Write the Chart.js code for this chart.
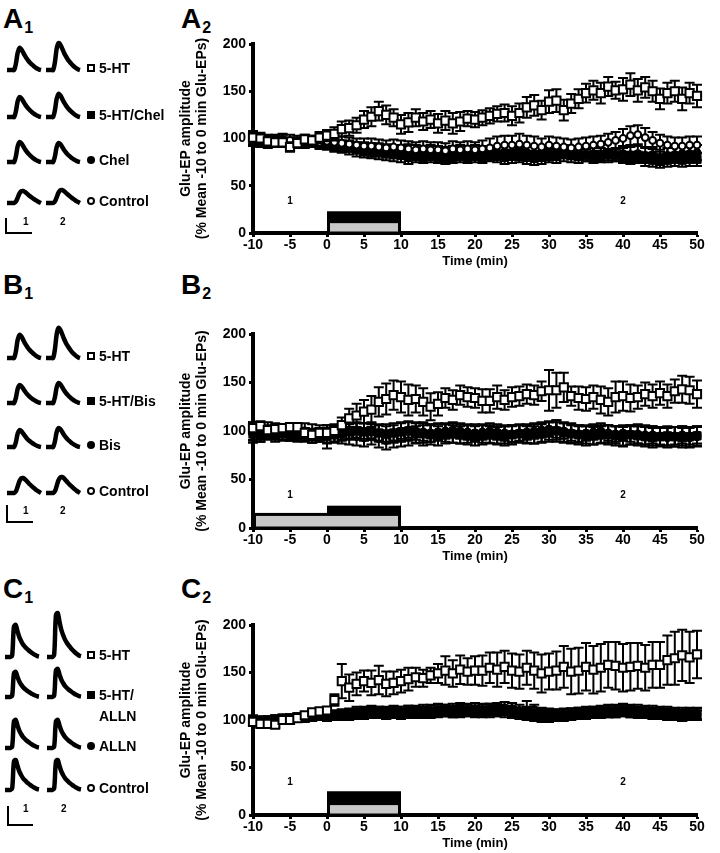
<!DOCTYPE html>
<html>
<head>
<meta charset="utf-8">
<script src="https://cdn.jsdelivr.net/npm/chart.js@4.4.0/dist/chart.umd.min.js"></script>
<style>
  body { margin: 0; background: #fff; font-family: 'Liberation Sans', Arial, sans-serif; color: #000; }
  #page { position: relative; width: 720px; height: 853px; overflow: hidden; background: #fff; }
  .plab { position: absolute; font-size: 28px; font-weight: bold; line-height: 1; }
  .plab sub { font-size: 16px; vertical-align: -5px; margin-left: 1px; }
  .lbl { position: absolute; font-size: 14px; font-weight: bold; line-height: 14px; white-space: nowrap; }
  .num { position: absolute; font-size: 10px; font-weight: bold; line-height: 10px; }
  .sym { position: absolute; box-sizing: border-box; }
  .bar { position: absolute; background: #000; }
  canvas { position: absolute; }
</style>
</head>
<body>
<div id="page"></div>
<script>
// tiempo (min)
const times = [-10,-9,-8,-7,-6,-5,-4,-3,-2,-1,0,1,2,3,4,5,6,7,8,9,10,11,12,13,14,15,16,17,18,19,20,
  21,22,23,24,25,26,27,28,29,30,31,32,33,34,35,36,37,38,39,40,41,42,43,44,45,46,47,48,49,50];
const xTicks = [-10, 50, 5];   // min, max, paso
const yTicks = [0, 200, 50];

// Panel A (Chel)
const aHT = [101,100,97,96,96,91,95,99,98,101, 103,105,110,111,114,120,123,129,125,122,
  115,117,122,118,120,116,119,116,118,121, 120,122,124,126,127,124,127,133,135,130,
  139,140,130,137,142,148,151,148,155,151, 152,157,151,154,150,142,148,150,142,148, 145];
const aHTErr = [7,6,6,5,5,5,5,5,5,6, 6,7,8,8,8,9,10,10,10,9, 10,10,9,9,9,10,10,11,10,8,
  8,8,8,8,9,10,10,11,11,10, 12,12,11,10,10,10,10,11,10,9, 12,12,12,11,11,11,11,11,12,11, 12];
const aHTChel = [100,98,99,97,96,95,96,97,96,95, 94,92,91,90,88,87,86,85,84,83,
  82,80,81,80,81,80,79,80,81,80, 81,80,82,81,80,81,82,80,79,80,
  82,81,83,82,81,82,80,81,83,82, 80,79,80,78,77,76,77,78,77,78, 78];
const aHTChelErr = [6,6,5,5,5,5,5,5,5,5, 6,6,6,7,7,7,7,7,7,7, 7,7,6,6,6,6,6,6,6,6,
  6,6,6,6,7,7,7,7,7,7, 7,7,7,7,7,6,6,6,6,6, 6,6,6,7,7,7,7,7,7,7, 7];
const aChel = [98,97,96,97,98,96,95,95,96,94, 95,93,92,92,90,89,88,88,87,86,
  86,87,86,85,86,85,84,85,86,85, 86,85,84,85,86,85,84,85,84,85,
  84,85,86,85,84,83,84,83,82,83, 84,83,84,82,83,80,82,83,84,84, 85];
const aChelErr = [6,6,6,6,6,5,5,5,5,5, 6,6,6,6,6,7,7,7,7,7, 7,7,7,7,7,7,7,7,7,7,
  7,7,7,7,7,7,7,7,7,7, 7,7,7,7,7,7,7,7,7,7, 8,8,8,8,8,8,8,8,8,8, 8];
const aCtrl = [100,98,97,98,99,98,97,98,97,96, 97,96,95,94,93,92,92,91,90,91,
  90,89,88,89,88,88,87,89,88,89, 88,89,90,92,93,93,94,93,92,91,
  93,92,91,90,91,92,93,94,96,98, 100,103,104,101,98,95,93,92,92,93, 93];
const aCtrlErr = [7,7,6,6,6,6,6,6,6,6, 7,7,7,7,7,8,8,8,8,8, 8,8,8,8,8,8,8,8,8,8,
  8,9,10,10,10,10,11,10,10,9, 9,9,9,9,9,9,9,9,9,9, 10,10,10,10,9,9,9,9,9,9, 9];

// Panel B (Bis)
const bHT = [103,105,101,102,103,104,104,98,96,98, 98,100,106,113,116,120,122,130,133,137,
  135,132,133,130,125,128,134,132,137,135, 134,131,131,135,132,135,136,138,137,141,
  142,142,145,136,134,133,135,132,130,135, 136,134,135,138,136,139,136,141,143,142, 138];
const bHTErr = [6,5,5,4,4,4,4,5,5,5, 5,6,8,10,12,12,14,15,16,15, 16,16,14,14,14,12,10,10,10,10,
  10,12,12,12,10,10,10,10,10,10, 21,18,15,10,12,12,12,14,14,16, 15,14,12,12,12,12,12,12,14,14, 14];
const bHTBis = [97,96,98,97,97,96,95,96,94,95, 94,96,98,99,100,99,100,98,97,98,
  99,100,98,97,96,95,97,98,97,96, 95,96,97,96,95,96,97,96,97,98,
  99,100,98,97,96,95,96,97,96,95, 94,96,95,94,93,94,95,94,93,94, 95];
const bHTBisErr = [7,7,6,6,6,6,6,6,6,6, 12,8,8,8,8,9,9,9,10,10, 10,10,10,12,10,10,10,10,10,10,
  10,10,9,9,10,10,9,9,10,10, 10,11,10,10,10,10,10,9,10,10, 10,10,10,10,10,9,10,10,10,10, 10];
const bBis = [96,97,98,96,97,98,97,96,95,96, 95,97,99,100,101,100,99,98,97,98,
  100,101,100,99,98,99,100,101,100,99, 98,99,100,99,98,97,98,99,100,101,
  102,101,100,98,97,98,99,100,98,97, 98,97,96,95,96,95,94,95,96,95, 96];
const bBisErr = [8,8,7,7,7,7,7,7,7,7, 8,8,8,8,8,8,8,8,8,8, 8,8,9,9,9,8,8,8,8,8,
  8,8,8,8,8,8,8,8,8,8, 8,8,8,8,8,8,8,8,8,8, 8,8,9,9,9,9,9,9,9,9, 9];
const bCtrl = [100,99,101,100,99,98,99,100,99,98, 97,98,96,95,94,93,95,92,90,92,
  93,94,96,97,98,99,98,97,96,97, 98,97,96,95,96,97,98,97,96,98,
  100,101,99,98,97,96,95,96,97,96, 95,96,97,96,95,94,93,94,95,93, 94];
const bCtrlErr = [9,8,8,8,8,8,8,8,8,8, 9,9,9,9,9,9,9,9,9,9, 9,9,9,9,9,9,9,9,9,9,
  9,9,9,9,9,9,9,9,9,9, 9,10,10,10,9,9,9,9,9,9, 10,10,10,10,10,10,10,10,10,10, 10];

// Panel C (ALLN)
const cHT = [98,96,96,95,100,100,102,105,108,109, 110,121,141,134,138,141,139,142,138,139,
  141,143,145,144,147,149,152,149,153,151, 152,152,155,153,156,152,151,155,152,149,
  151,152,156,151,152,156,153,155,158,157, 155,156,157,155,158,158,163,165,168,166, 169];
const cHTErr = [3,3,3,3,3,3,3,3,3,3, 3,6,18,14,12,11,13,15,13,12, 12,12,10,9,8,10,15,14,15,14,
  15,16,16,18,17,18,18,18,19,20, 19,20,22,24,24,25,25,25,24,25, 25,25,24,24,24,24,26,28,27,27, 25];
const cHTALLN = [98,97,98,99,100,101,102,103,104,104, 104,105,106,107,108,108,109,108,107,108,
  108,109,108,108,109,110,110,109,110,110, 109,110,111,110,109,108,107,106,105,104,
  104,105,105,106,107,107,108,108,109,109, 110,109,108,108,107,107,106,106,105,106, 106];
const cHTALLNErr = [4,4,4,4,4,4,4,4,4,4, 5,5,5,5,6,6,6,6,6,6, 6,6,6,6,6,6,6,6,6,6,
  6,6,6,6,6,6,6,6,6,6, 6,6,6,6,6,6,6,6,6,6, 6,6,6,6,6,6,6,6,6,6, 6];
const cALLN = [100,99,100,101,101,102,103,103,104,104, 104,105,106,106,107,107,108,108,108,109,
  108,109,109,110,110,111,110,111,112,111, 112,111,111,112,113,112,110,108,107,106,
  105,105,106,106,107,108,108,109,110,110, 111,110,110,109,109,108,108,107,107,107, 107];
const cALLNErr = [4,4,4,4,4,4,4,4,4,4, 5,5,5,5,5,6,6,6,6,6, 6,6,6,6,6,6,6,6,6,6,
  6,6,6,6,6,6,6,6,6,6, 6,6,6,6,6,6,6,6,6,6, 6,6,6,6,6,6,6,6,6,6, 6];
const cCtrl = [101,100,100,101,102,102,103,102,103,104, 103,104,105,105,106,106,107,107,106,107,
  106,107,108,108,107,108,109,108,108,109, 109,108,108,109,110,109,108,110,111,108,
  107,106,106,107,107,108,108,109,108,108, 109,108,108,107,106,106,105,105,104,105, 105];
const cCtrlErr = [4,4,4,4,4,4,4,4,4,4, 4,4,5,5,5,5,5,5,5,5, 5,5,5,5,5,5,5,5,5,5,
  5,5,5,5,5,5,5,10,5,5, 5,5,5,5,5,5,5,5,5,5, 5,5,5,5,5,5,5,5,5,5, 5];

// barras de aplicación de fármaco: [desde, hasta, bajo, alto]
const grayBarA = [0, 10, 0, 12];
const blackBarA = [0, 10, 12, 23];
const grayBarB = [-10, 10, 0, 14];
const blackBarB = [0, 10, 14, 23];
const grayBarC = [0, 10, 0, 12];
const blackBarC = [0, 10, 12, 25];
// etiquetas de periodo "1" y "2": tiempos y altura
const periodTimes = [-5, 40];
const periodLevel = 34;

// trazos representativos (forma normalizada) y amplitudes (1 = trazo "1", 2 = trazo "2")
const waveRound = [0,0,0,0,0,0.3,0.8,1,0.94,0.8,0.65,0.52,0.41,0.32,0.24,0.17,0.11,0.06,0.02,0];
const waveSlow = [0,0,0,0,0,0.12,0.45,0.8,0.98,1,0.92,0.8,0.67,0.55,0.44,0.34,0.24,0.15,0.07,0];
const waveSharp = [0,0,0,0,0.05,0.95,1,0.8,0.62,0.5,0.4,0.33,0.27,0.22,0.17,0.13,0.09,0.06,0.03,0.02];
const ampA1 = [22, 20, 20, 12], ampA2 = [27, 23, 19, 13];
const ampB1 = [23, 18, 17, 15], ampB2 = [30, 20, 19, 16];
const ampC1 = [32, 25, 28, 30], ampC2 = [44, 28, 28, 30];
const namesA = ['5-HT', '5-HT/Chel', 'Chel', 'Control'];
const namesB = ['5-HT', '5-HT/Bis', 'Bis', 'Control'];
const namesC = ['5-HT', '5-HT/\nALLN', 'ALLN', 'Control'];

const FONT = "'Liberation Sans', Arial, sans-serif";
const page = document.getElementById('page');

function pts(vals) { return vals.map((v, i) => ({ x: times[i], y: v })); }

// barras de error dibujadas justo antes de los puntos de cada serie
const errorBars = {
  id: 'errorBars',
  beforeDatasetDraw(chart, args) {
    const ds = chart.data.datasets[args.index];
    if (!ds.errors) return;
    const ys = chart.scales.y, ctx = chart.ctx;
    ctx.save();
    ctx.strokeStyle = '#000';
    ctx.lineWidth = 2;
    args.meta.data.forEach((p, i) => {
      const v = ds.data[i].y, e = ds.errors[i];
      const t = ys.getPixelForValue(v + e), b = ys.getPixelForValue(v - e);
      ctx.beginPath();
      ctx.moveTo(p.x, t); ctx.lineTo(p.x, b);
      ctx.moveTo(p.x - 5, t); ctx.lineTo(p.x + 5, t);
      ctx.moveTo(p.x - 5, b); ctx.lineTo(p.x + 5, b);
      ctx.stroke();
    });
    ctx.restore();
  }
};

// barras de tratamiento y numeros de periodo
const treatment = {
  id: 'treatment',
  beforeDatasetsDraw(chart, args, opts) {
    const xs = chart.scales.x, ys = chart.scales.y, ctx = chart.ctx;
    const rect = (b) => {
      const x0 = xs.getPixelForValue(b[0]), x1 = xs.getPixelForValue(b[1]);
      const y0 = ys.getPixelForValue(b[2]), y1 = ys.getPixelForValue(b[3]);
      return [x0, y1, x1 - x0, y0 - y1];
    };
    ctx.save();
    const k = rect(opts.black);
    ctx.fillStyle = '#000';
    ctx.fillRect(k[0], k[1], k[2], k[3]);
    const g = rect(opts.gray);
    ctx.fillStyle = '#c8c8c8';
    ctx.fillRect(g[0], g[1], g[2], g[3]);
    ctx.strokeStyle = '#000';
    ctx.lineWidth = 3;
    ctx.strokeRect(g[0] + 1.5, g[1], g[2] - 3, g[3]);
    ctx.fillStyle = '#000';
    ctx.font = 'bold 10px ' + FONT;
    ctx.textAlign = 'center';
    ctx.textBaseline = 'middle';
    periodTimes.forEach((t, i) => {
      ctx.fillText(String(i + 1), xs.getPixelForValue(t), ys.getPixelForValue(periodLevel));
    });
    ctx.restore();
  }
};

const STYLE = {
  openSquare: { pointStyle: 'rect', pointRadius: 5.8, backgroundColor: '#fff', borderColor: '#000', pointBorderWidth: 2 },
  openCircle: { pointStyle: 'circle', pointRadius: 3.4, backgroundColor: '#fff', borderColor: '#000', pointBorderWidth: 2 },
  fillCircle: { pointStyle: 'circle', pointRadius: 4, backgroundColor: '#000', borderColor: '#000', pointBorderWidth: 1 },
  fillSquare: { pointStyle: 'rect', pointRadius: 5.8, backgroundColor: '#000', borderColor: '#000', pointBorderWidth: 1 }
};

// series: [valores, errores, estilo]; la primera se dibuja encima
function mainChart(top, plotH, series, gray, black) {
  const cv = document.createElement('canvas');
  const W = 536, H = 16 + plotH + 36;
  cv.width = W; cv.height = H;
  cv.style.left = '176px'; cv.style.top = top + 'px';
  page.appendChild(cv);
  const datasets = series.map(s => Object.assign({
    data: pts(s[0]), errors: s[1], showLine: false, clip: 8
  }, STYLE[s[2]]));
  const tickFont = { family: FONT, size: 14, weight: 'bold' };
  new Chart(cv, {
    type: 'scatter',
    data: { datasets },
    options: {
      responsive: false, animation: false, events: [],
      layout: { padding: { top: 16, right: 15, left: 0, bottom: 0 } },
      plugins: { legend: { display: false }, tooltip: { enabled: false },
        treatment: { gray, black } },
      scales: {
        x: {
          type: 'linear', min: xTicks[0], max: xTicks[1],
          ticks: { stepSize: xTicks[2], padding: 0, color: '#000', font: tickFont },
          grid: { drawOnChartArea: false, tickLength: 4, tickWidth: 3, tickColor: '#000' },
          border: { width: 4, color: '#000' },
          title: { display: true, text: 'Time (min)', color: '#000', padding: { top: -1, bottom: 0 },
            font: { family: FONT, size: 13, weight: 'bold' } },
          afterFit(s) { s.height = 36; }
        },
        y: {
          min: yTicks[0], max: yTicks[1],
          ticks: { stepSize: yTicks[2], padding: 3, color: '#000', font: tickFont },
          grid: { drawOnChartArea: false, tickLength: 4, tickWidth: 3, tickColor: '#000' },
          border: { width: 4, color: '#000' },
          title: { display: true, text: ['Glu-EP amplitude', '(% Mean -10 to 0 min Glu-EPs)'], color: '#000',
            padding: { top: 3, bottom: 0 }, font: { family: FONT, size: 14, weight: 'bold', lineHeight: 1.08 } },
          afterFit(s) { s.width = 77; }
        }
      }
    },
    plugins: [errorBars, treatment]
  });
}

function trace(x, baseline, wave, amp) {
  const cv = document.createElement('canvas');
  cv.width = 40; cv.height = 54;
  cv.style.left = (x - 3) + 'px'; cv.style.top = (baseline - 48) + 'px';
  page.appendChild(cv);
  new Chart(cv, {
    type: 'line',
    data: { labels: wave.map((_, i) => i),
      datasets: [{ data: wave.map(v => v * amp), borderColor: '#000', borderWidth: 4.5,
        pointRadius: 0, tension: 0.35, clip: false, borderJoinStyle: 'round' }] },
    options: {
      responsive: false, animation: false, events: [],
      layout: { padding: { left: 3, right: 3, top: 0, bottom: 0 } },
      plugins: { legend: { display: false }, tooltip: { enabled: false } },
      scales: { x: { display: false }, y: { display: false, min: -6, max: 48 } }
    }
  });
}

function el(cls, html, css) {
  const d = document.createElement('div');
  d.className = cls; d.innerHTML = html;
  Object.assign(d.style, css);
  page.appendChild(d);
  return d;
}

function symbol(kind, cx, cy) {
  const d = el('sym', '', {});
  const size = 8;
  d.style.width = size + 'px'; d.style.height = size + 'px';
  d.style.left = (cx - size / 2) + 'px'; d.style.top = (cy - size / 2) + 'px';
  if (kind === 'openSquare') { d.style.border = '2px solid #000'; d.style.background = '#fff'; }
  if (kind === 'fillSquare') { d.style.background = '#000'; }
  if (kind === 'fillCircle') { d.style.background = '#000'; d.style.borderRadius = '50%'; }
  if (kind === 'openCircle') { d.style.border = '2px solid #000'; d.style.borderRadius = '50%'; }
}

function tracePanel(baselines, x1, x2, waves, amp1, amp2, names, scaleBar) {
  const kinds = ['openSquare', 'fillSquare', 'fillCircle', 'openCircle'];
  baselines.forEach((b, i) => {
    trace(x1, b, waves[i], amp1[i]);
    trace(x2, b, waves[i], amp2[i]);
    const cy = b - 2;
    symbol(kinds[i], 91, cy);
    const lines = names[i].split('\n');
    el('lbl', lines.join('<br>'), { left: '99px', top: (cy - 10) + 'px', lineHeight: '21px' });
  });
  const [sx, sy0, sy1, sxe, ny, n2x] = scaleBar;
  el('bar', '', { left: sx + 'px', top: sy0 + 'px', width: '2px', height: (sy1 - sy0) + 'px' });
  el('bar', '', { left: sx + 'px', top: (sy1 - 2) + 'px', width: (sxe - sx) + 'px', height: '2px' });
  el('num', '1', { left: '23px', top: (ny - 5) + 'px' });
  el('num', '2', { left: n2x + 'px', top: (ny - 5) + 'px' });
}

function panelLabel(letter, n, left, top) {
  el('plab', letter + '<sub>' + n + '</sub>', { left: left + 'px', top: top + 'px' });
}

// etiquetas de panel
panelLabel('A', 1, 3, 5); panelLabel('A', 2, 181, 5);
panelLabel('B', 1, 3, 271); panelLabel('B', 2, 181, 271);
panelLabel('C', 1, 3, 575); panelLabel('C', 2, 181, 575);

// trazos
tracePanel([70, 117, 162, 203], 7, 46, [waveRound, waveRound, waveRound, waveSlow], ampA1, ampA2, namesA,
  [5, 218, 234, 32, 222, 60]);
tracePanel([358, 403, 447, 493], 7, 46, [waveRound, waveRound, waveRound, waveSlow], ampB1, ampB2, namesB,
  [6, 505, 523, 33, 511, 60]);
tracePanel([657, 697, 748, 790], 5, 47, [waveSharp, waveSharp, waveSharp, waveSharp], ampC1, ampC2, namesC,
  [7, 806, 826, 33, 809, 61]);

// graficas de curso temporal
mainChart(28, 189, [[aHT, aHTErr, 'openSquare'], [aCtrl, aCtrlErr, 'openCircle'],
  [aChel, aChelErr, 'fillCircle'], [aHTChel, aHTChelErr, 'fillSquare']], grayBarA, blackBarA);
mainChart(318, 194, [[bHT, bHTErr, 'openSquare'], [bBis, bBisErr, 'fillCircle'],
  [bHTBis, bHTBisErr, 'fillSquare'], [bCtrl, bCtrlErr, 'openCircle']], grayBarB, blackBarB);
mainChart(609, 190, [[cHT, cHTErr, 'openSquare'], [cHTALLN, cHTALLNErr, 'fillSquare'],
  [cALLN, cALLNErr, 'fillCircle'], [cCtrl, cCtrlErr, 'openCircle']], grayBarC, blackBarC);
</script>
</body>
</html>
